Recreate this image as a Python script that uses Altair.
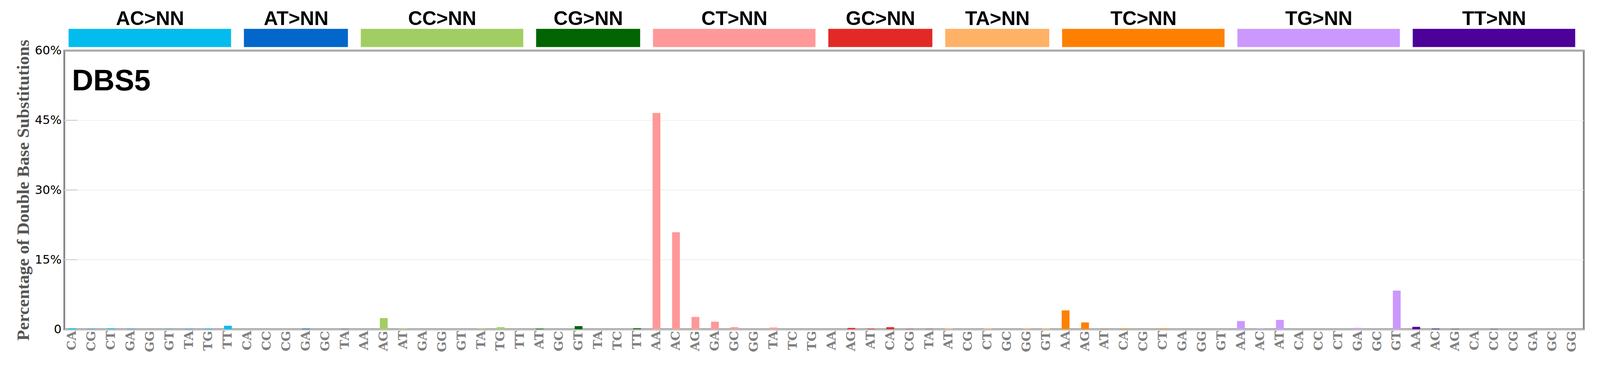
import altair as alt
import pandas as pd

groups = ["AC>NN", "AT>NN", "CC>NN", "CG>NN", "CT>NN",
          "GC>NN", "TA>NN", "TC>NN", "TG>NN", "TT>NN"]
colors = ["#03BCEE", "#0266CA", "#A1CE63", "#016501", "#FF9898",
          "#E22925", "#FFB166", "#FF8001", "#CB98FD", "#4C0199"]

ctx_AC = ["CA", "CG", "CT", "GA", "GG", "GT", "TA", "TG", "TT"]
ctx_AT = ["CA", "CC", "CG", "GA", "GC", "TA"]
ctx_CC = ["AA", "AG", "AT", "GA", "GG", "GT", "TA", "TG", "TT"]
ctx_CG = ["AT", "GC", "GT", "TA", "TC", "TT"]
ctx_CT = ["AA", "AC", "AG", "GA", "GC", "GG", "TA", "TC", "TG"]
ctx_GC = ["AA", "AG", "AT", "CA", "CG", "TA"]
ctx_TA = ["AT", "CG", "CT", "GC", "GG", "GT"]
ctx_TC = ["AA", "AG", "AT", "CA", "CG", "CT", "GA", "GG", "GT"]
ctx_TG = ["AA", "AC", "AT", "CA", "CC", "CT", "GA", "GC", "GT"]
ctx_TT = ["AA", "AC", "AG", "CA", "CC", "CG", "GA", "GC", "GG"]

val_AC = [0.21, 0.08, 0.20, 0.10, 0.0, 0.05, 0.10, 0.15, 0.76]
val_AT = [0.0, 0.0, 0.0, 0.13, 0.0, 0.05]
val_CC = [0.0, 2.41, 0.21, 0.0, 0.0, 0.0, 0.13, 0.45, 0.0]
val_CG = [0.13, 0.0, 0.68, 0.0, 0.0, 0.21]
val_CT = [46.6, 20.9, 2.65, 1.63, 0.45, 0.05, 0.37, 0.05, 0.05]
val_GC = [0.0, 0.29, 0.13, 0.45, 0.05, 0.05]
val_TA = [0.20, 0.0, 0.20, 0.0, 0.13, 0.20]
val_TC = [4.07, 1.47, 0.05, 0.13, 0.0, 0.13, 0.0, 0.0, 0.0]
val_TG = [1.78, 0.13, 2.02, 0.05, 0.05, 0.05, 0.29, 0.05, 8.32]
val_TT = [0.52, 0.13, 0.05, 0.0, 0.05, 0.0, 0.0, 0.0, 0.0]

y_ticks = [0, 15, 30, 45, 60]
inner_ticks = [15, 30, 45]
title_text = "DBS5"
y_title = "Percentage of Double Base Substitutions"

contexts = [ctx_AC, ctx_AT, ctx_CC, ctx_CG, ctx_CT, ctx_GC, ctx_TA, ctx_TC, ctx_TG, ctx_TT]
values = [val_AC, val_AT, val_CC, val_CG, val_CT, val_GC, val_TA, val_TC, val_TG, val_TT]

rows, grows, labels = [], [], []
i = 0
for g, ctx, vals in zip(groups, contexts, values):
    first = i
    for c, v in zip(ctx, vals):
        rows.append({"idx": i, "x0": i - 0.2, "x1": i + 0.2, "label": c,
                     "group": g, "value": v, "base": 0.0})
        labels.append(c)
        i += 1
    last = i - 1
    grows.append({"group": g, "start": first - 0.18, "end": last + 0.16,
                  "center": (first + last) / 2})
df = pd.DataFrame(rows)
dg = pd.DataFrame(grows)
n = len(df)

label_expr = "[" + ",".join("'" + l + "'" for l in labels) + "][datum.value]"

xscale = alt.Scale(domain=[-0.4, n - 0.4], nice=False, zero=False)
yscale = alt.Scale(domain=[0, 60], nice=False, zero=True)
cscale = alt.Scale(domain=groups, range=colors)

W, H = 4173, 764

xaxis = alt.Axis(values=list(range(n)), labelExpr=label_expr,
                 labelAngle=270, labelFont="DejaVu Serif",
                 labelFontWeight="bold", labelFontSize=34,
                 labelColor="#808080", labelPadding=4,
                 labelOverlap=False, labelFlush=False, labelBound=False,
                 ticks=False, domain=False, grid=False, title=None)
yaxis = alt.Axis(values=y_ticks,
                 labelExpr="datum.value == 0 ? '0' : datum.value + '%'",
                 labelFont="DejaVu Sans", labelFontSize=33,
                 labelColor="black", labelPadding=8,
                 ticks=False, domain=False, grid=True,
                 gridColor="#ebebeb", gridWidth=1.5,
                 title=y_title, titleFont="Liberation Serif",
                 titleFontSize=48, titleFontWeight="bold",
                 titleColor="#555555", titleAngle=270,
                 titleX=-98, titleY=H / 2, titleAlign="center",
                 titleBaseline="alphabetic")

bars = alt.Chart(df).mark_rect().encode(
    x=alt.X("x0:Q", scale=xscale, axis=xaxis),
    x2="x1:Q",
    y=alt.Y("value:Q", scale=yscale, axis=yaxis),
    y2="base:Q",
    color=alt.Color("group:N", scale=cscale, legend=None),
)

tick_df = pd.DataFrame({"t": inner_ticks})
inner = alt.Chart(tick_df).mark_rule(color="#d3d3d3", strokeWidth=3).encode(
    y=alt.Y("t:Q", scale=yscale, axis=yaxis),
    x=alt.value(0), x2=alt.value(36),
)

grect = alt.Chart(dg).mark_rect().encode(
    x=alt.X("start:Q", scale=xscale, axis=xaxis),
    x2="end:Q",
    y=alt.value(-60), y2=alt.value(-10),
    color=alt.Color("group:N", scale=cscale, legend=None),
)

gtext = alt.Chart(dg).mark_text(font="Liberation Sans", fontWeight="bold",
                                fontSize=54, baseline="alphabetic",
                                align="center", color="black").encode(
    x=alt.X("center:Q", scale=xscale, axis=xaxis),
    y=alt.value(-70),
    text="group:N",
)

ttext = alt.Chart(pd.DataFrame({"t": [title_text]})).mark_text(
    font="Liberation Sans", fontWeight="bold", fontSize=81,
    baseline="alphabetic", align="left", color="black").encode(
    x=alt.value(21), y=alt.value(109), text="t:N")

chart = alt.layer(bars, inner, grect, gtext, ttext).properties(
    width=W, height=H,
    background="white",
    autosize=alt.AutoSizeParams(type="none"),
    padding={"left": 168, "top": 95, "right": 36, "bottom": 117},
).configure_view(stroke="#878787", strokeWidth=5)

chart.save("out.html", embed_options={"renderer": "svg", "actions": False})
